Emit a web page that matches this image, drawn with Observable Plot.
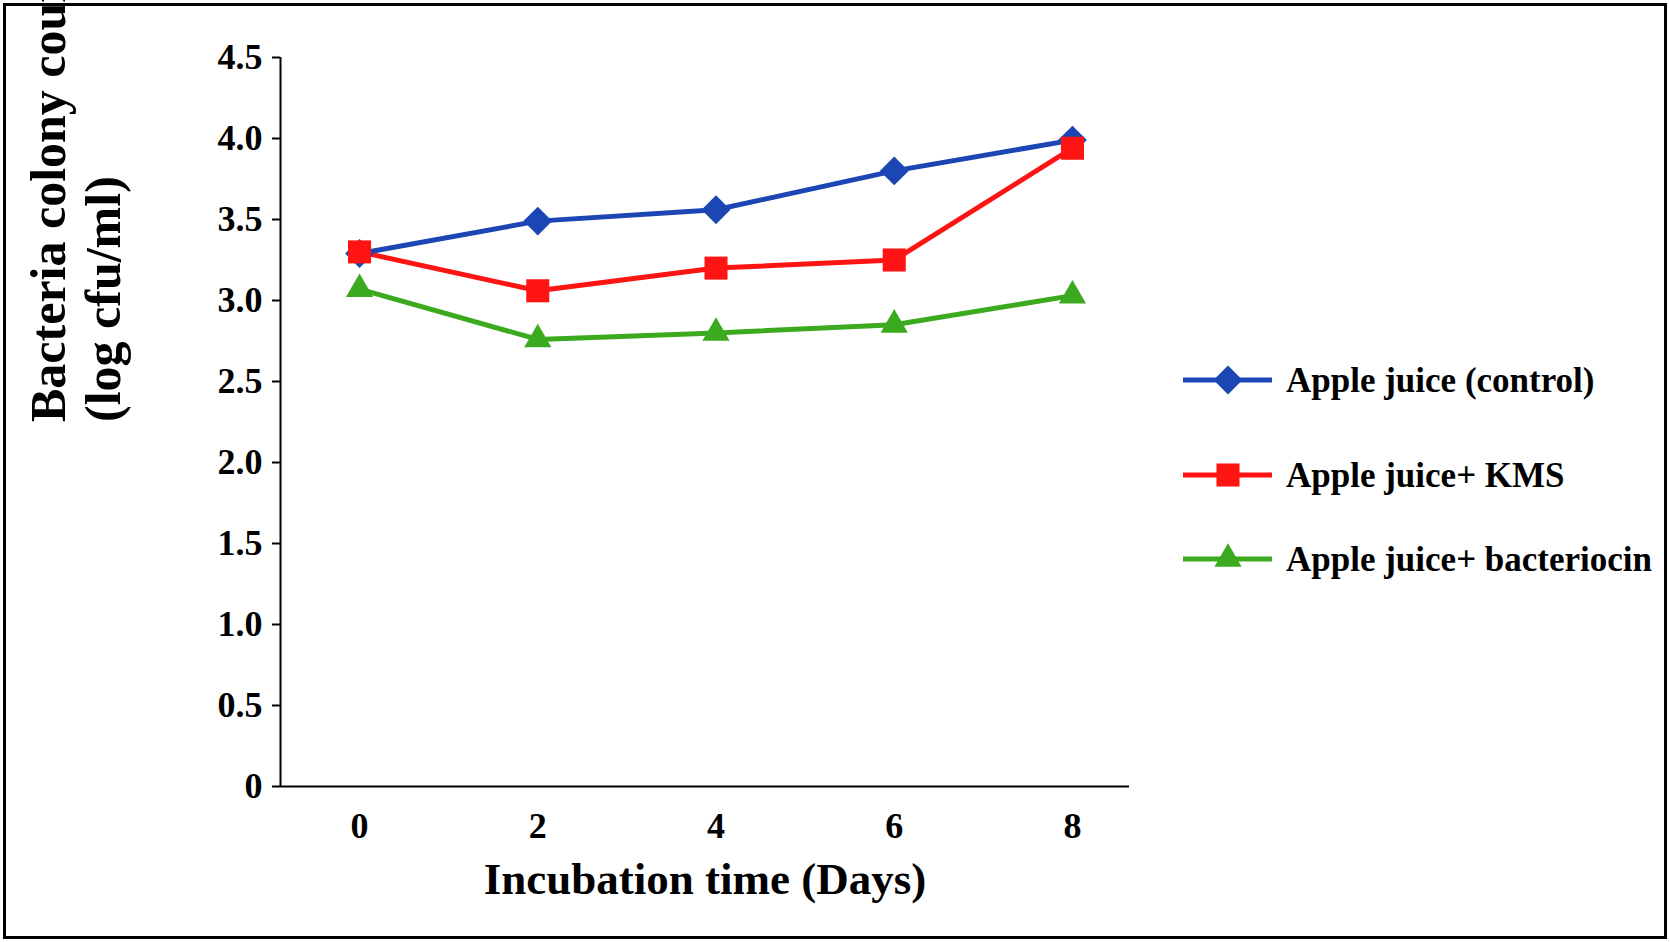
<!DOCTYPE html>
<html><head><meta charset="utf-8">
<script src="https://cdn.jsdelivr.net/npm/d3@7"></script>
<script src="https://cdn.jsdelivr.net/npm/@observablehq/plot@0.6"></script>
<style>
body{margin:0;background:#fff;}
#wrap{position:relative;width:1670px;height:942px;font-family:"Liberation Serif","Times New Roman",serif;font-weight:bold;}
#wrap > svg{position:absolute;left:0;top:0;}
#frame{position:absolute;left:3px;top:3px;width:1658px;height:930px;border:3px solid #000;pointer-events:none;}
#legend{position:absolute;left:1180px;top:0;}
</style></head><body>
<div id="wrap"><div id="frame"></div><div id="legend"></div></div>
<script>
const days = [0, 2, 4, 6, 8];
const seriesNames = ["Apple juice (control)", "Apple juice+ KMS", "Apple juice+ bacteriocin"];
const control = [3.29, 3.49, 3.56, 3.80, 3.99];
const kms = [3.30, 3.06, 3.20, 3.25, 3.94];
const bacteriocin = [3.07, 2.76, 2.80, 2.85, 3.03];
const yTicks = [0, 0.5, 1, 1.5, 2, 2.5, 3, 3.5, 4, 4.5];
const colors = ["#1c46b4", "#ff1414", "#3caa1e"];
const symbols = ["diamond2", "square", "triangle2"];

const all = [control, kms, bacteriocin];
const data = all.flatMap((vals, i) => vals.map((v, j) => ({series: seriesNames[i], day: days[j], value: v})));
const serif = "'Liberation Serif','Times New Roman',serif";

const chart = Plot.plot({
  width: 1670, height: 942,
  marginLeft: 280, marginRight: 541, marginTop: 57, marginBottom: 156,
  style: {fontFamily: serif, fontWeight: "bold", fontSize: "36px", background: "transparent"},
  x: {domain: [-0.887, 8.64], label: null},
  y: {domain: [0, 4.5], label: null},
  color: {domain: seriesNames, range: colors},
  symbol: {domain: seriesNames, range: symbols},
  marks: [
    Plot.ruleY([0], {stroke: "#000", strokeWidth: 2}),
    Plot.ruleX([-0.887], {stroke: "#000", strokeWidth: 2}),
    Plot.axisY({ticks: yTicks, tickFormat: d => d === 0 ? "0" : d.toFixed(1), tickSize: 8, tickPadding: 10, fontSize: 36, strokeWidth: 2, label: null}),
    Plot.axisX({ticks: days, tickFormat: d => String(d), tickSize: 0, tickPadding: 26, fontSize: 36, label: null}),
    Plot.line(data, {x: "day", y: "value", stroke: "series", strokeWidth: 5}),
    Plot.dot(data, {x: "day", y: "value", fill: "series", symbol: "series", r: 13}),
    Plot.text(["Incubation time (Days)"], {frameAnchor: "bottom", dy: 107, fontSize: 45, fontWeight: "bold"}),
    Plot.text(["Bacteria colony count"], {frameAnchor: "left", dx: -232, rotate: -90, fontSize: 50, fontWeight: "bold"}),
    Plot.text(["(log cfu/ml)"], {frameAnchor: "left", dx: -177, rotate: -90, fontSize: 50, fontWeight: "bold"})
  ]
});
document.getElementById("wrap").prepend(chart);

// legend
const lg = d3.select("#legend").append("svg").attr("width", 480).attr("height", 942);
const rows = [380, 475, 559];
const syms = [d3.symbolDiamond2, d3.symbolSquare, d3.symbolTriangle2];
seriesNames.forEach((n, i) => {
  const g = lg.append("g").attr("transform", `translate(0,${rows[i]})`);
  g.append("line").attr("x1", 3).attr("x2", 92).attr("stroke", colors[i]).attr("stroke-width", 5);
  g.append("path").attr("transform", "translate(48,0)").attr("fill", colors[i])
    .attr("d", d3.symbol(syms[i], 13 * 13 * Math.PI)());
  g.append("text").attr("x", 106).attr("y", 12).attr("font-size", 35).attr("font-weight", "bold")
    .attr("font-family", serif).text(n);
});
</script>
</body></html>
